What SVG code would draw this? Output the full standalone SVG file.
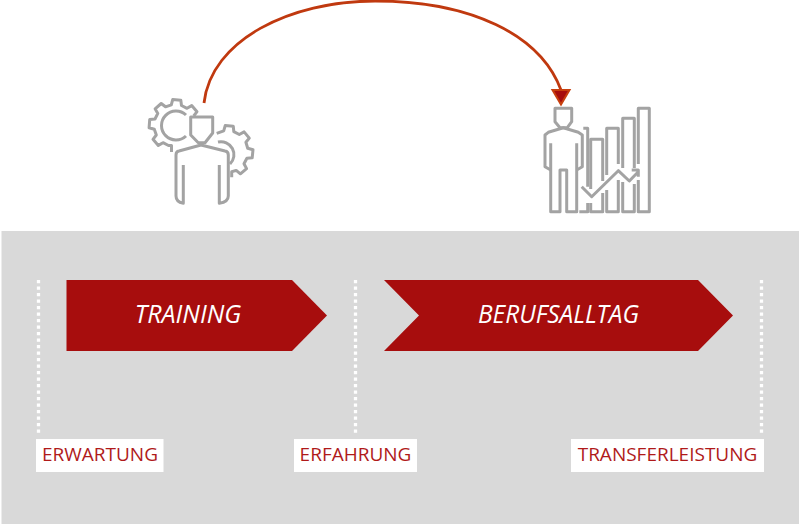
<svg xmlns="http://www.w3.org/2000/svg" width="800" height="526" viewBox="0 0 800 526">
<style>
.ic{fill:none;stroke:#a3a3a3;stroke-width:3;stroke-linejoin:round;stroke-linecap:butt}
.dot{fill:none;stroke:#fff;stroke-width:3.3;stroke-dasharray:3.2 3.3}
.chev{fill:#a70d0d}
.ct{font-family:"Open Sans",sans-serif;font-style:italic;font-size:25px;fill:#fff;text-anchor:middle}
.lb{font-family:"Open Sans",sans-serif;font-size:19px;fill:#b01a1a;text-anchor:middle}
.box{fill:#fff}
</style>
<defs>
<marker id="ah" markerUnits="userSpaceOnUse" markerWidth="24" markerHeight="22" refX="4" refY="11" orient="90" viewBox="0 0 24 22">
<path d="M4,2.5 L18.5,11 L4,19.5 Z" fill="#a70d0d" stroke="#c8400f" stroke-width="2" stroke-linejoin="miter"/>
</marker>
</defs>
<rect width="800" height="526" fill="#fff"/>
<rect id="panel" x="1.5" y="231" width="797.5" height="293" fill="#d9d9d9"/>
<g id="connectors">
<path d="M204,103 C211,40 290,1 375,1 C470,1 540,34 561,90" fill="none" stroke="#c0390f" stroke-width="2.8" marker-end="url(#ah)"/>
<path class="dot" d="M38.5,280 V436"/>
<path class="dot" d="M355.5,280 V436"/>
<path class="dot" d="M761.5,280 V436"/>
</g>
<g id="icon-training">
<path class="ic" d="M193.7,116 L197,111.7 L191.7,105.6 L187,108.3 L181.5,105.5 L180.8,100.2 L172.7,99.6 L171.3,104.8 L165.5,106.8 L161.2,103.5 L155.1,108.8 L157.8,113.4 L155,119 L149.7,119.6 L149.1,127.8 L154.3,129.2 L156.3,135 L153,139.3 L158.3,145.4 L163,142.7 L168.5,145.5 L171.5,145.5 L171.5,152"/>
<path class="ic" d="M186,115 A14.5,14.5 0 1 0 186,136"/>
<path class="ic" d="M216.7,133.3 L223.7,130.8 L225.2,125.6 L233.3,126.3 L233.8,131.6 L239.3,134.5 L244.1,131.9 L249.3,138.1 L245.9,142.3 L247.7,148.2 L253,149.7 L252.2,157.8 L246.9,158.3 L244,163.8 L246.6,168.6 L240.4,173.8 L236.2,170.4 L231.7,171.7 L231.7,177.3"/>
<path class="ic" d="M218,142 A13,13 0 0 1 230,164"/>
<path class="ic" d="M190.7,117 H212.7 V133 L205,142.7 H198.3 L190.7,135 Z"/>
<path class="ic" d="M183.3,165 V203.3 Q176,202 176,196 V155 Q176,151.5 179,151 L201,145 L225,151 Q228.3,151.5 228.3,155 V196 Q228.3,202 219.3,203.3 V165"/>
</g>
<g id="icon-berufsalltag">
<path class="ic" d="M555,108.3 H571.7 V121.7 L567.3,127.7 H560 L555,121.7 Z"/>
<path class="ic" d="M550.7,143.3 V211.7 H560 V170 H566.7 V211.7 H576.7 V143.3"/>
<path class="ic" d="M550.7,170 L545,166.7 V135 L548.3,132.3 L563.3,127.7 L578.3,132.3 L582.3,135 V166.7 L576.7,170"/>
<path class="ic" d="M583.3,128.3 H587.7 V186.7 M579.3,211.7 H587.7 V203"/>
<path class="ic" d="M590.7,189 V139.3 H602.7 V181 M590.7,203 V211.7 H602.7 V193"/>
<path class="ic" d="M606.7,175 V128.3 H618.3 V164 M606.7,190 V211.7 H618.3 V180"/>
<path class="ic" d="M622.7,168 V118.3 H634.3 V168 M622.7,182 V211.7 H634.3 V184"/>
<path class="ic" d="M638.3,164 V108.3 H649.3 V211.7 H638.3 V180"/>
<path class="ic" d="M581.7,186.7 L591.7,196.7 L618.3,170.7 L629.3,181 L638.3,171.7 M631.7,170 H638.3 V176.7"/>
</g>
<g id="node-training">
<polygon class="chev" points="66.5,280 292,280 327,315.5 292,351 66.5,351"/>
<text class="ct" x="188" y="323">TRAINING</text>
</g>
<g id="node-berufsalltag">
<polygon class="chev" points="384,280 698,280 733,315.5 698,351 384,351 419,315.5"/>
<text class="ct" x="558.5" y="323" textLength="161" lengthAdjust="spacingAndGlyphs">BERUFSALLTAG</text>
</g>
<g id="label-erwartung">
<rect class="box" x="36" y="439" width="127.5" height="33"/>
<text class="lb" x="100" y="461">ERWARTUNG</text>
</g>
<g id="label-erfahrung">
<rect class="box" x="294" y="439" width="123" height="33"/>
<text class="lb" x="355.5" y="461">ERFAHRUNG</text>
</g>
<g id="label-transferleistung">
<rect class="box" x="571" y="439" width="193" height="33"/>
<text class="lb" x="667.5" y="461">TRANSFERLEISTUNG</text>
</g>
</svg>
